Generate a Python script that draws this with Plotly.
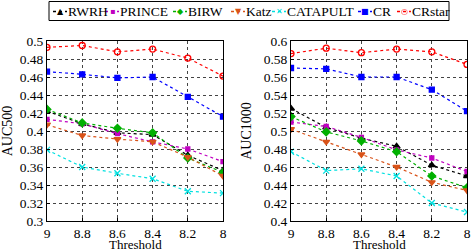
import plotly.graph_objects as go

thresholds = [9, 8.8, 8.6, 8.4, 8.2, 8]
tick_labels = ["9", "8.8", "8.6", "8.4", "8.2", "8"]
series_names = ["RWRH", "PRINCE", "BIRW", "Katz", "CATAPULT", "CR", "CRstar"]

auc500_rwrh = [0.422, 0.408, 0.398, 0.396, 0.373, 0.356]
auc500_prince = [0.413, 0.408, 0.397, 0.388, 0.380, 0.366]
auc500_birw = [0.424, 0.409, 0.403, 0.398, 0.370, 0.354]
auc500_katz = [0.407, 0.395, 0.391, 0.388, 0.371, 0.350]
auc500_catapult = [0.379, 0.360, 0.353, 0.347, 0.333, 0.331]
auc500_cr = [0.466, 0.463, 0.459, 0.460, 0.438, 0.416]
auc500_crstar = [0.493, 0.495, 0.488, 0.491, 0.481, 0.461]

auc1000_rwrh = [0.525, 0.504, 0.492, 0.483, 0.462, 0.450]
auc1000_prince = [0.510, 0.505, 0.493, 0.479, 0.470, 0.455]
auc1000_birw = [0.516, 0.499, 0.489, 0.477, 0.450, 0.437]
auc1000_katz = [0.502, 0.488, 0.474, 0.460, 0.443, 0.434]
auc1000_catapult = [0.477, 0.456, 0.458, 0.450, 0.420, 0.410]
auc1000_cr = [0.570, 0.569, 0.560, 0.560, 0.546, 0.522]
auc1000_crstar = [0.586, 0.592, 0.587, 0.591, 0.588, 0.574]

auc500 = [auc500_rwrh, auc500_prince, auc500_birw, auc500_katz, auc500_catapult, auc500_cr, auc500_crstar]
auc1000 = [auc1000_rwrh, auc1000_prince, auc1000_birw, auc1000_katz, auc1000_catapult, auc1000_cr, auc1000_crstar]

colors = ["#000000", "#c000c0", "#00b000", "#d95319", "#00e0e0", "#0000ff", "#ff0000"]
symbols = ["triangle-up", "square", "diamond", "triangle-down", "x-thin-open", "square", "circle-open"]
msizes = [6, 4, 6, 6, 6, 5, 6]
legend_glyphs = ["\u25B2", "\u25AA", "\u25C6", "\u25BC", "\u2715", "\u25A0", "\u25CB"]

W, H = 471, 251
BM = 30          # bottom margin (px)
PH = H - BM      # plot-area height (px)
FONT = '"Liberation Serif", "Times New Roman", Times, serif'

fig = go.Figure()
for i, name in enumerate(series_names):
    for vals, xa, ya in [(auc500[i], "x", "y"), (auc1000[i], "x2", "y2")]:
        fig.add_trace(go.Scatter(
            x=thresholds, y=vals, name=name, xaxis=xa, yaxis=ya, showlegend=False,
            mode="lines+markers",
            line=dict(color=colors[i], width=1.2, dash="dot"),
            marker=dict(symbol=symbols[i], size=msizes[i], color=colors[i],
                        line=dict(color=colors[i], width=1.3)),
        ))

axis_common = dict(
    showline=True, mirror=True, linecolor="black", linewidth=1,
    ticks="inside", ticklen=3, tickcolor="black",
    showgrid=True, gridcolor="#444444", griddash="dot", gridwidth=0.8,
    zeroline=False, automargin=False,
    tickfont=dict(family=FONT, size=13.5, color="black"),
)
xaxis_common = dict(axis_common, range=[9, 8], tickvals=thresholds, ticktext=tick_labels)

ydom = [0, 1 - 41 / PH]
left_dom = [47 / W, 223 / W]
right_dom = [291 / W, 467 / W]
fig.update_layout(
    width=W, height=H,
    margin=dict(l=0, r=0, t=0, b=BM),
    paper_bgcolor="white", plot_bgcolor="white",
    font=dict(family=FONT, size=13.5, color="black"),
    showlegend=False,
    xaxis=dict(xaxis_common, domain=left_dom, anchor="y"),
    yaxis=dict(axis_common, domain=ydom, range=[0.3, 0.5], dtick=0.02,
               tickformat="~g", anchor="x",
               title=dict(text="AUC500", font=dict(family=FONT, size=14, color="black"), standoff=8)),
    xaxis2=dict(xaxis_common, domain=right_dom, anchor="y2"),
    yaxis2=dict(axis_common, domain=ydom, range=[0.4, 0.6], dtick=0.02,
                tickformat="~g", anchor="x2",
                title=dict(text="AUC1000", font=dict(family=FONT, size=14, color="black"), standoff=8)),
)

# x-axis titles
for dom in (left_dom, right_dom):
    fig.add_annotation(xref="paper", yref="paper", x=(dom[0] + dom[1]) / 2, y=(PH - 244.5) / PH,
                       text="Threshold", showarrow=False, xanchor="center", yanchor="middle",
                       font=dict(family=FONT, size=13, color="black"))

# Custom one-row legend (box, swatch lines, glyphs and names)
legend_text_x = [68, 120, 188, 246, 287, 373, 412]
legend_y = 1 - 11.5 / PH
fig.add_shape(type="rect", xref="paper", yref="paper",
              x0=49 / W, x1=449 / W, y0=1 - 20.5 / PH, y1=1 - 1.5 / PH,
              line=dict(color="black", width=1), fillcolor="white", layer="below")
for i, name in enumerate(series_names):
    tx = legend_text_x[i]
    fig.add_shape(type="line", xref="paper", yref="paper",
                  x0=(tx - 15) / W, x1=(tx - 1) / W, y0=legend_y, y1=legend_y,
                  line=dict(color=colors[i], width=1.5, dash="dot"))
    fig.add_annotation(xref="paper", yref="paper", x=(tx - 8) / W, y=legend_y,
                       text=legend_glyphs[i], showarrow=False, xanchor="center", yanchor="middle",
                       font=dict(family="DejaVu Sans", size=8, color=colors[i]))
    fig.add_annotation(xref="paper", yref="paper", x=tx / W, y=legend_y,
                       text=name, showarrow=False, xanchor="left", yanchor="middle",
                       xshift=-2, font=dict(family=FONT, size=13.5, color="black"))

fig.write_html("out.html", config={"displayModeBar": False},
               post_script="document.body.style.margin='0';")
